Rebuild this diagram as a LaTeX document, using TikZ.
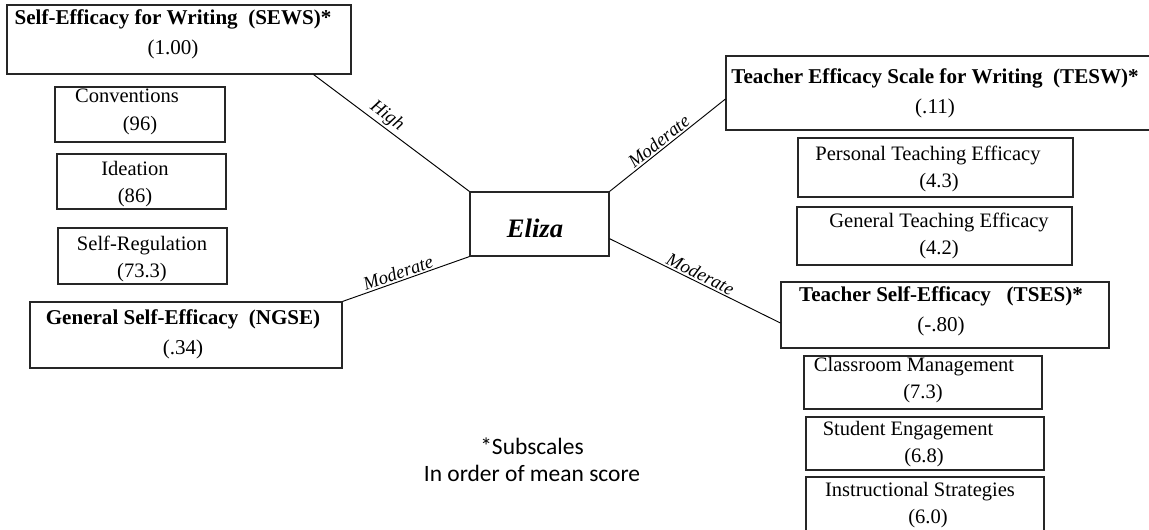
\documentclass[tikz,border=0pt]{standalone}
\usepackage{fontspec}
\setmainfont{Liberation Serif}
\newfontfamily\notefont{Carlito}
\usetikzlibrary{fit,calc}

\tikzset{
  panel/.style={draw=black!85, line width=0.85pt, inner sep=0pt, fit={#1}},
  body/.style={align=center, inner sep=0pt, font=\fontsize{15.4}{20.5}\selectfont},
  head/.style={align=center, inner sep=0pt, font=\fontsize{15.8}{22.5}\selectfont\bfseries},
  link/.style={draw=black, line width=0.7pt},
  rating/.style={sloped, above, inner sep=1.2pt, font=\fontsize{14}{16}\selectfont\itshape},
}

\begin{document}
\begin{tikzpicture}[x=0.75pt, y=-0.75pt]
\useasboundingbox (0,0) rectangle (1149,529);

% writing self-efficacy and its subscales
\node[panel={(7,5)(351,74)}] (sews) {};
\node[head] (sews-t) at (173,34) {Self-Efficacy\ for\ Writing\ \ (SEWS)*\\\mdseries(1.00)};
\node[panel={(55,87)(225,142)}] (conv) {};
\node[body] (conv-t) at (140,112) {Conventions\kern19.5pt\\(96)};
\node[panel={(57,154)(226,209)}] (idea) {};
\node[body] (idea-t) at (135,184) {Ideation\\(86)};
\node[panel={(58,228)(227,284)}] (selfreg) {};
\node[body] (selfreg-t) at (142,259) {Self-Regulation\\(73.3)};

% general self-efficacy
\node[panel={(30,302)(342,368)}] (ngse) {};
\node[head] (ngse-t) at (183,334) {General Self-Efficacy\ \ (NGSE)\\\mdseries(.34)};

% the participant
\node[panel={(470,192)(609,256)}] (eliza) {};
\node[font=\fontsize{20}{24}\selectfont\bfseries\itshape, inner sep=0pt] (eliza-t) at (535,228) {Eliza};

% teacher efficacy for writing and its subscales
\node[panel={(726,56)(1155,130)}] (tesw) {};
\node[head] (tesw-t) at (935,93) {Teacher Efficacy Scale for Writing\ \ (TESW)*\\\mdseries(.11)};
\node[panel={(798,138)(1073,197)}] (pte) {};
\node[body] (pte-t) at (939,169) {Personal Teaching Efficacy\kern16.5pt\\(4.3)};
\node[panel={(797,207)(1072,265)}] (gte) {};
\node[body] (gte-t) at (939,236) {General Teaching Efficacy\\(4.2)};

% teacher self-efficacy and its subscales
\node[panel={(781,282)(1109,348)}] (tses) {};
\node[head] (tses-t) at (941,311) {Teacher Self-Efficacy\ \ \ (TSES)*\\\mdseries(-.80)};
\node[panel={(804,356)(1042,409)}] (cm) {};
\node[body] (cm-t) at (923,380) {Classroom Management\kern13.5pt\\(7.3)};
\node[panel={(806,417)(1044,470)}] (se) {};
\node[body] (se-t) at (924,444) {Student Engagement\kern24pt\\(6.8)};
\node[panel={(806,477)(1044,531)}] (is) {};
\node[body] (is-t) at (928,505) {Instructional Strategies\kern12pt\\(6.0)};

% note
\node[align=center, inner sep=0pt, font=\notefont\fontsize{17.6}{20.5}\selectfont] (note) at (532,460) {*Subscales\\In order of mean score};

% connectors with ratings
\draw[link] ([xshift=-28.5pt]sews.south east) -- node[rating, pos=0.43] {High} (eliza.north west);
\draw[link] (eliza.north east) -- node[rating, pos=0.47] {Moderate} ([yshift=-4.5pt]tesw.west);
\draw[link] ([yshift=-11pt]eliza.east) -- node[rating, pos=0.51] {Moderate} ([yshift=-6pt]tses.west);
\draw[link] (ngse.north east) -- node[rating, pos=0.46] {Moderate} (eliza.south west);
\end{tikzpicture}
\end{document}
